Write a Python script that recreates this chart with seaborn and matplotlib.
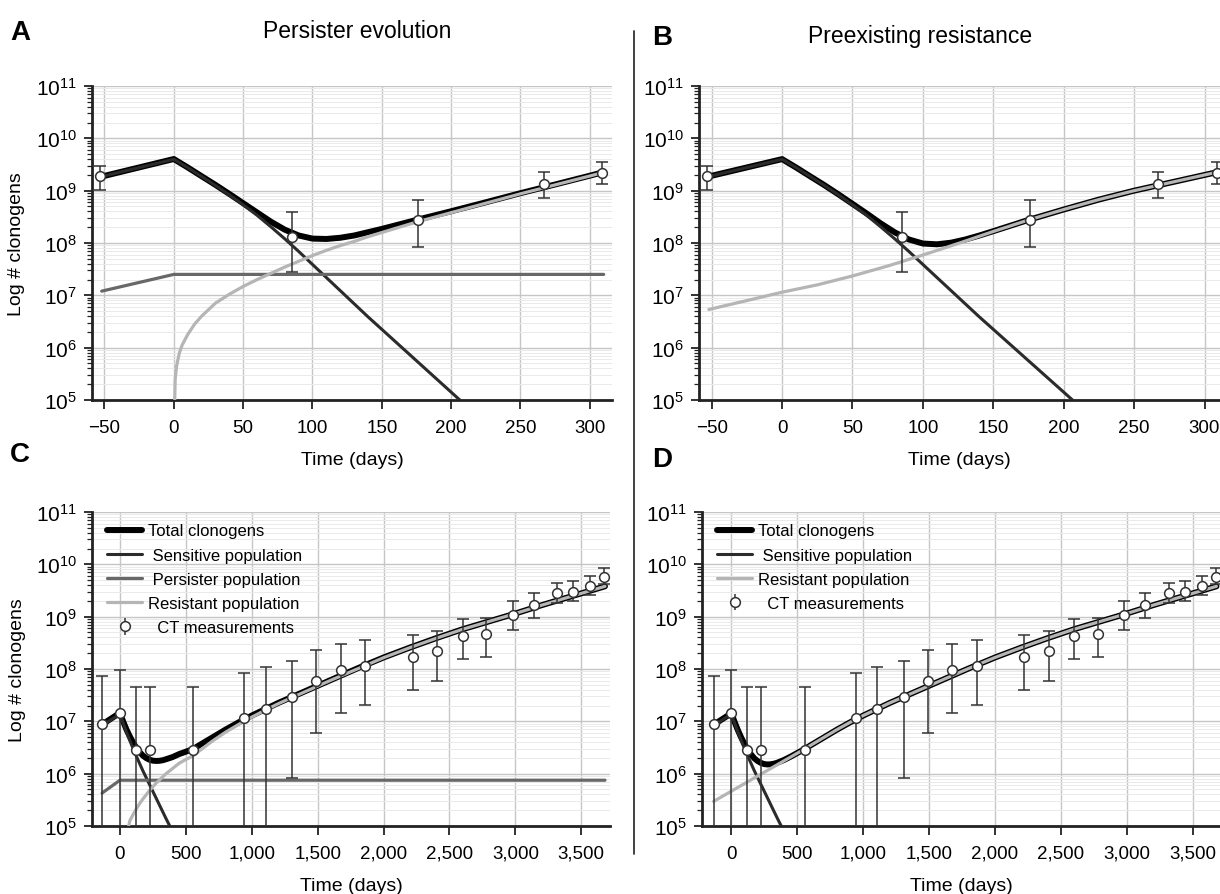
import numpy as np
import seaborn as sns
import matplotlib
matplotlib.use("Agg")
import matplotlib.pyplot as plt
from matplotlib.lines import Line2D
from matplotlib.ticker import FixedLocator, FuncFormatter, LogLocator

# ---- CT measurements (days, log10 clonogens) ----
ab_t = [-53, 85, 176, 267, 309]
ab_log = [9.28, 8.12, 8.44, 9.13, 9.34]
ab_lo = [9.01, 7.44, 7.93, 8.86, 9.13]
ab_hi = [9.48, 8.59, 8.82, 9.36, 9.55]

cd_t = [-135, 0, 120, 228, 557, 942, 1105, 1308, 1488, 1676, 1860, 2223, 2408,
        2603, 2778, 2982, 3141, 3317, 3438, 3567, 3676]
cd_log = [6.94, 7.16, 6.45, 6.45, 6.46, 7.07, 7.24, 7.46, 7.78, 7.98, 8.06, 8.23,
          8.34, 8.63, 8.66, 9.04, 9.23, 9.46, 9.47, 9.58, 9.76]
cd_lo = [3, 3, 3, 3, 3, 3, 3, 5.91, 6.77, 7.16, 7.32, 7.59, 7.77, 8.20, 8.23,
         8.75, 8.98, 9.27, 9.29, 9.41, 9.62]
cd_hi = [7.87, 7.99, 7.66, 7.66, 7.66, 7.93, 8.03, 8.15, 8.36, 8.48, 8.55, 8.65,
         8.73, 8.96, 8.97, 9.30, 9.46, 9.65, 9.68, 9.77, 9.93]

# ---- model curves, panel A (persister evolution) ----
a_total_t = [-52, 0, 10, 20, 30, 40, 50, 60, 70, 80, 90, 100, 110, 120, 130, 140,
             150, 175, 200, 225, 250, 275, 300, 310]
a_total = [9.27, 9.605, 9.444, 9.277, 9.111, 8.938, 8.761, 8.584, 8.407, 8.255,
           8.144, 8.084, 8.077, 8.10, 8.143, 8.206, 8.269, 8.441, 8.607, 8.778,
           8.952, 9.118, 9.286, 9.355]
ab_sens_t = [-52, 0, 10, 20, 30, 40, 50, 60, 70, 80, 90, 100, 110, 120, 130, 140,
             150, 160, 170, 180, 190, 200, 210]
ab_sens = [9.27, 9.60, 9.44, 9.27, 9.10, 8.92, 8.73, 8.53, 8.31, 8.08, 7.84, 7.59,
           7.34, 7.09, 6.84, 6.59, 6.35, 6.11, 5.87, 5.63, 5.39, 5.15, 4.91]
a_pers_t = [-52, 0, 310]
a_pers = [7.08, 7.40, 7.40]
a_res_t = [0.2, 1, 2, 4, 6, 10, 15, 20, 30, 40, 50, 60, 70, 80, 90, 100, 110, 120,
           130, 140, 150, 175, 200, 225, 250, 275, 300, 310]
a_res = [4.5, 5.4, 5.65, 5.9, 6.05, 6.25, 6.45, 6.6, 6.85, 7.02, 7.17, 7.3, 7.42,
         7.54, 7.65, 7.76, 7.86, 7.95, 8.03, 8.12, 8.2, 8.4, 8.58, 8.76, 8.94,
         9.11, 9.28, 9.35]

# ---- panel B (preexisting resistance) ----
b_total_t = a_total_t
b_total = [9.272, 9.603, 9.442, 9.273, 9.106, 8.930, 8.748, 8.565, 8.375, 8.204,
           8.068, 7.990, 7.975, 8.006, 8.066, 8.142, 8.226, 8.441, 8.64, 8.83,
           9.0, 9.15, 9.30, 9.36]
b_res_t = [-52, -25, 0, 25, 50, 75, 100, 125, 150, 175, 200, 225, 250, 275, 300, 310]
b_res = [6.73, 6.90, 7.06, 7.2, 7.37, 7.56, 7.77, 7.99, 8.22, 8.44, 8.64, 8.83,
         9.0, 9.15, 9.30, 9.36]

# ---- panel C (persister evolution, long follow-up) ----
late_t = [600, 700, 800, 900, 1000, 1100, 1200, 1300, 1400, 1500, 1600, 1800,
          2000, 2200, 2400, 2600, 2800, 3000, 3200, 3400, 3600, 3680]
late_total = [6.54, 6.69, 6.84, 6.98, 7.11, 7.23, 7.35, 7.46, 7.57, 7.68, 7.79,
              8.01, 8.22, 8.41, 8.59, 8.76, 8.91, 9.06, 9.22, 9.37, 9.52, 9.58]
c_total_t = [-135, 0, 25, 50, 75, 100, 125, 150, 175, 200, 225, 250, 275, 300,
             325, 350, 400, 450, 500, 555] + late_t
c_total = [6.94, 7.163, 6.994, 6.840, 6.711, 6.595, 6.492, 6.41, 6.343, 6.297,
           6.266, 6.248, 6.243, 6.246, 6.257, 6.276, 6.318, 6.375, 6.42, 6.47] + late_total
cd_sens_t = [-135, 0, 25, 50, 75, 100, 125, 150, 175, 200, 225, 250, 275, 300,
             325, 350, 380, 400]
cd_sens = [6.92, 7.14, 6.96, 6.79, 6.63, 6.48, 6.33, 6.19, 6.05, 5.92, 5.79, 5.66,
           5.53, 5.40, 5.27, 5.14, 4.99, 4.9]
c_pers_t = [-135, 0, 3680]
c_pers = [5.63, 5.875, 5.875]
c_res_t = [62, 75, 100, 125, 150, 175, 200, 225, 250, 275, 300, 325, 350, 400,
           450, 500, 555] + late_t
c_res = [4.95, 5.1, 5.22, 5.33, 5.43, 5.52, 5.6, 5.68, 5.75, 5.82, 5.88, 5.94,
         6.0, 6.1, 6.2, 6.27, 6.34, 6.43, 6.62, 6.79, 6.94, 7.08, 7.21, 7.335,
         7.449, 7.561, 7.673, 7.785, 8.0, 8.216, 8.408, 8.588, 8.759, 8.909, 9.06,
         9.22, 9.37, 9.52, 9.58]

# ---- panel D (preexisting resistance, long follow-up) ----
d_total_t = c_total_t
d_total = [6.935, 7.154, 6.983, 6.827, 6.687, 6.564, 6.454, 6.364, 6.290, 6.24,
           6.204, 6.183, 6.176, 6.18, 6.192, 6.211, 6.263, 6.326, 6.395, 6.47] + late_total
d_res_t = [-135, 0, 100, 200, 300, 400, 500, 555] + late_t
d_res = [5.47, 5.666, 5.811, 5.956, 6.101, 6.246, 6.391, 6.47] + late_total

C_TOTAL, C_SENS, C_PERS, C_RES, C_ERR = "#000000", "#2b2b2b", "#686868", "#b5b5b5", "#333333"

sns.set_theme(style="white")
plt.rcParams["font.family"] = ["Liberation Sans", "DejaVu Sans"]
plt.rcParams["text.color"] = "black"
plt.rcParams["axes.labelcolor"] = "black"
plt.rcParams["xtick.color"] = "black"
plt.rcParams["ytick.color"] = "black"

fig = plt.figure(figsize=(12.2, 8.95), dpi=100)
W, H = 1220.0, 895.0


def px_axes(l, t, r, b):
    return fig.add_axes([l / W, 1 - b / H, (r - l) / W, (b - t) / H])


def draw(ax, curves, pts, xlim, xticks, thousands):
    ax.set_yscale("log")
    for t, v, color, lw, z in curves:
        sns.lineplot(x=t, y=10.0 ** np.asarray(v), ax=ax, color=color, linewidth=lw,
                     estimator=None, sort=False, zorder=z, legend=False)
    t, v, lo, hi = pts
    y = 10.0 ** np.asarray(v)
    err = [y - 10.0 ** np.asarray(lo), 10.0 ** np.asarray(hi) - y]
    ax.errorbar(t, y, yerr=err, fmt="o", mfc="white", mec=C_ERR, ms=7, mew=1.1,
                ecolor=C_ERR, elinewidth=1.1, capsize=4, capthick=1.1, zorder=6)
    ax.set_xlim(*xlim)
    ax.set_ylim(1e5, 1e11)
    ax.xaxis.set_major_locator(FixedLocator(xticks))
    if thousands:
        ax.xaxis.set_major_formatter(FuncFormatter(lambda x, p: f"{int(x):,}"))
    else:
        ax.xaxis.set_major_formatter(FuncFormatter(lambda x, p: f"{int(x)}".replace("-", "\u2212")))
    ax.yaxis.set_major_locator(LogLocator(base=10, numticks=12))
    ax.yaxis.set_minor_locator(LogLocator(base=10, subs=np.arange(2, 10), numticks=12))
    ax.grid(True, which="major", axis="both", color="#c6c6c6", lw=1.0, zorder=0)
    ax.grid(True, which="minor", axis="y", color="#eaeaea", lw=0.7, zorder=0)
    ax.set_axisbelow(True)
    for s in ["top", "right"]:
        ax.spines[s].set_visible(False)
    for s in ["left", "bottom"]:
        ax.spines[s].set_color("#222222")
        ax.spines[s].set_linewidth(2.0)
    ax.tick_params(axis="x", which="major", direction="out", length=6.5, width=1.3,
                   color="#222222", labelsize=13.5, pad=7, bottom=True)
    ax.tick_params(axis="y", which="major", direction="out", length=6, width=1.3,
                   color="#222222", labelsize=15, pad=5, left=True)
    ax.tick_params(axis="y", which="minor", direction="out", length=3.5, width=0.9,
                   color="#222222", left=True)
    ax.set_xlabel("Time (days)", fontsize=14, labelpad=11)
    ax.set_facecolor("white")


ax_a = px_axes(92, 87, 612, 401)
draw(ax_a,
     [(a_total_t, a_total, C_TOTAL, 4.3, 2),
      (ab_sens_t, ab_sens, C_SENS, 2.2, 3),
      (a_pers_t, a_pers, C_PERS, 2.3, 3),
      (a_res_t, a_res, C_RES, 2.3, 4)],
     (ab_t, ab_log, ab_lo, ab_hi), (-59, 316), [-50, 0, 50, 100, 150, 200, 250, 300], False)

ax_b = px_axes(699, 87, 1220, 401)
draw(ax_b,
     [(b_total_t, b_total, C_TOTAL, 4.3, 2),
      (ab_sens_t, ab_sens, C_SENS, 2.2, 3),
      (b_res_t, b_res, C_RES, 2.3, 4)],
     (ab_t, ab_log, ab_lo, ab_hi), (-59, 311), [-50, 0, 50, 100, 150, 200, 250, 300], False)

ax_c = px_axes(92, 513, 610, 827)
draw(ax_c,
     [(c_total_t, c_total, C_TOTAL, 4.3, 2),
      (cd_sens_t, cd_sens, C_SENS, 2.2, 3),
      (c_pers_t, c_pers, C_PERS, 2.3, 3),
      (c_res_t, c_res, C_RES, 2.3, 4)],
     (cd_t, cd_log, cd_lo, cd_hi), (-212, 3718), list(range(0, 3501, 500)), True)

ax_d = px_axes(702, 513, 1220, 827)
draw(ax_d,
     [(d_total_t, d_total, C_TOTAL, 4.3, 2),
      (cd_sens_t, cd_sens, C_SENS, 2.2, 3),
      (d_res_t, d_res, C_RES, 2.3, 4)],
     (cd_t, cd_log, cd_lo, cd_hi), (-223, 3707), list(range(0, 3501, 500)), True)

for ax in (ax_a, ax_c):
    ax.set_ylabel("Log # clonogens", fontsize=14)
    ax.yaxis.set_label_coords(-0.128, 0.5)


def add_legend(ax, with_persister):
    pt = ax.errorbar([], [], yerr=[], fmt="o", mfc="white", mec=C_ERR, ms=7, mew=1.1,
                     ecolor=C_ERR, elinewidth=1.1, capsize=4, capthick=1.1)
    handles = [Line2D([], [], color=C_TOTAL, lw=4.3),
               Line2D([], [], color=C_SENS, lw=2.2)]
    labels = ["Total clonogens", " Sensitive population"]
    if with_persister:
        handles.append(Line2D([], [], color=C_PERS, lw=2.3))
        labels.append(" Persister population")
    handles += [Line2D([], [], color=C_RES, lw=2.3), pt]
    labels += ["Resistant population", "  CT measurements"]
    ax.legend(handles, labels, loc="upper left", bbox_to_anchor=(0.017, 0.985),
              borderaxespad=0, frameon=False, fontsize=12, handlelength=2.1,
              handletextpad=0.35, labelspacing=0.55)


add_legend(ax_c, True)
add_legend(ax_d, False)

fig.text(357 / W, 1 - 32 / H, "Persister evolution", fontsize=16.5, ha="center", va="center")
fig.text(920 / W, 1 - 36 / H, "Preexisting resistance", fontsize=16.5, ha="center", va="center")
for lab, x, y in [("A", 10, 33), ("B", 652, 38), ("C", 10, 455), ("D", 652, 460)]:
    fig.text(x / W, 1 - y / H, lab, fontsize=20, fontweight="bold", ha="left", va="center")

fig.add_artist(Line2D([634 / W, 634 / W], [1 - 32 / H, 1 - 855 / H], color="#333333", lw=1.3))

fig.savefig("out.png", dpi=100, facecolor="white")
